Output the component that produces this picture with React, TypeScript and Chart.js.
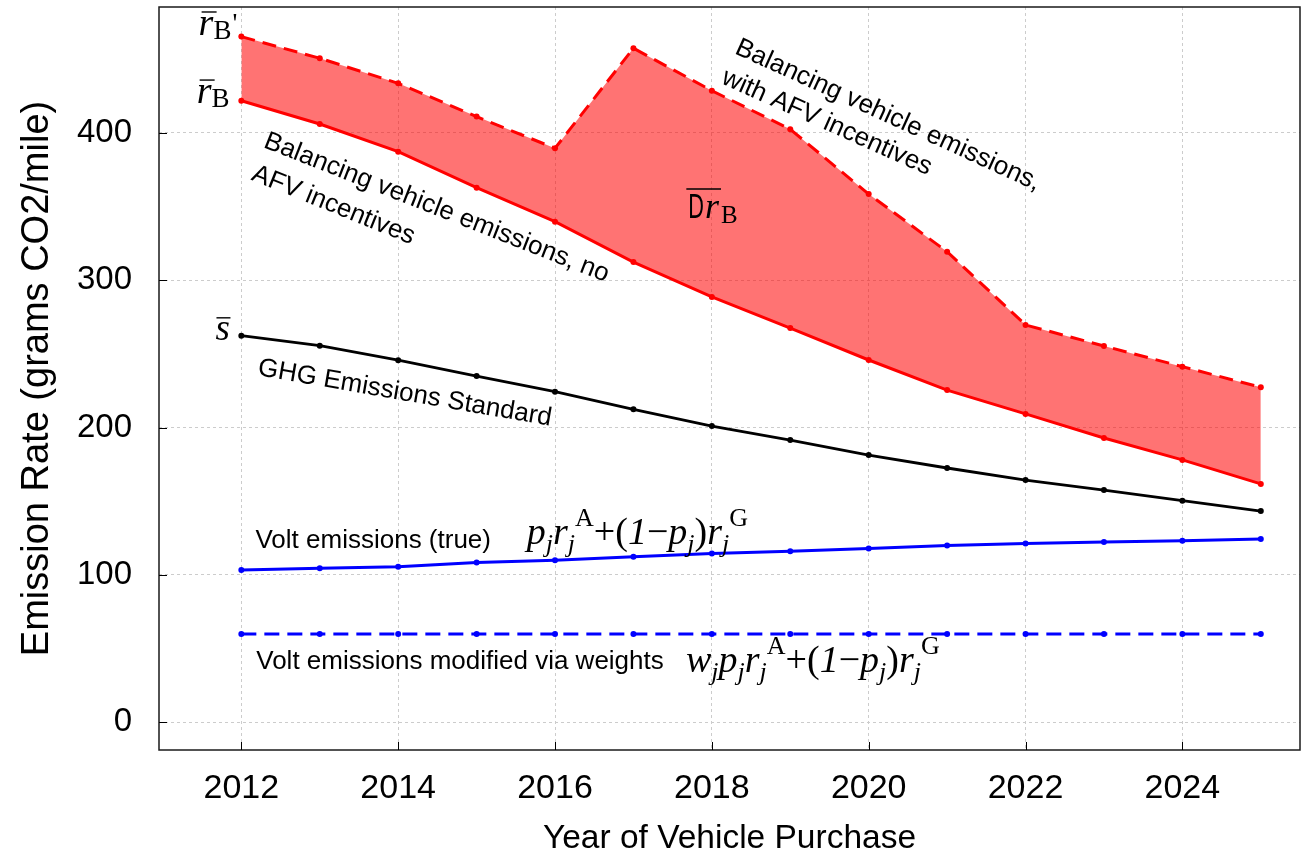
import React, { useEffect, useRef } from "react";
import { Chart, registerables } from "chart.js";

Chart.register(...registerables);

// ---- data ----
const years = [2012, 2013, 2014, 2015, 2016, 2017, 2018, 2019, 2020, 2021, 2022, 2023, 2024, 2025];
const rBPrime = [465.4, 450.7, 433.7, 411.1, 389.6, 457.5, 428.7, 402.5, 358.5, 319.4, 269.7, 255.4, 241.4, 227.4];
const rB = [421.9, 406.1, 387.3, 362.9, 339.8, 312.4, 288.7, 267.6, 245.9, 225.5, 209.3, 193.0, 178.1, 161.8];
const ghgStandard = [262.4, 255.6, 245.8, 235.0, 224.4, 212.4, 201.1, 191.6, 181.4, 172.6, 164.4, 157.6, 150.4, 143.4];
const voltTrue = [103.4, 104.5, 105.6, 108.4, 110.0, 112.3, 114.5, 116.1, 117.9, 120.0, 121.3, 122.4, 123.3, 124.4];
const voltWeighted = [60, 60, 60, 60, 60, 60, 60, 60, 60, 60, 60, 60, 60, 60];
const xTickValues = [2012, 2014, 2016, 2018, 2020, 2022, 2024];
const yTickValues = [0, 100, 200, 300, 400];

const SANS = '"Liberation Sans", Arial, Helvetica, sans-serif';
const SERIF = '"Liberation Serif", "Times New Roman", "DejaVu Serif", serif';

type Seg = { t: string; f: string; dy?: number; dx?: number };

function drawRich(ctx: CanvasRenderingContext2D, x: number, y: number, segs: Seg[]) {
  let cx = x;
  ctx.textAlign = "left";
  ctx.textBaseline = "alphabetic";
  for (const s of segs) {
    ctx.font = s.f;
    cx += s.dx || 0;
    ctx.fillText(s.t, cx, y + (s.dy || 0));
    cx += ctx.measureText(s.t).width;
  }
  return cx;
}

const S = 38;
const s = 26;
const I = `italic ${S}px ${SERIF}`;
const Ii = `italic ${s}px ${SERIF}`;
const R = `${S}px ${SERIF}`;
const Rr = `${s}px ${SERIF}`;
const SUB = 8;
const SUP = -18;

const formulaCore: Seg[] = [
  { t: "p", f: I },
  { t: "j", f: Ii, dy: SUB },
  { t: "r", f: I },
  { t: "j", f: Ii, dy: SUB },
  { t: "A", f: Rr, dy: SUP },
  { t: "+(", f: R },
  { t: "1", f: I },
  { t: "\u2212", f: R },
  { t: "p", f: I },
  { t: "j", f: Ii, dy: SUB },
  { t: ")", f: R },
  { t: "r", f: I },
  { t: "j", f: Ii, dy: SUB },
  { t: "G", f: Rr, dy: SUP },
];
const formulaWeighted: Seg[] = [{ t: "w", f: I }, { t: "j", f: Ii, dy: SUB }, ...formulaCore];

// rotated text annotations (data coordinates)
const rotatedLabels = [
  { text: "Balancing vehicle emissions, no", x: 2012.27, y: 390.5, angle: 21.5 },
  { text: "AFV incentives", x: 2012.115, y: 368.5, angle: 22 },
  { text: "Balancing vehicle emissions,", x: 2018.28, y: 454.3, angle: 24.5 },
  { text: "with AFV incentives", x: 2018.108, y: 433.9, angle: 24 },
  { text: "GHG Emissions Standard", x: 2012.2, y: 235.7, angle: 9.8 },
  { text: "Volt emissions (true)", x: 2012.18, y: 118.3, angle: 0 },
  { text: "Volt emissions modified via weights", x: 2012.19, y: 36.2, angle: 0 },
];

const annotPlugin = {
  id: "annot",
  afterDatasetsDraw(chart: any) {
    const ctx: CanvasRenderingContext2D = chart.ctx;
    const xs = chart.scales.x;
    const ys = chart.scales.y;
    const { left, right, top, bottom } = chart.chartArea;
    const px = (v: number) => xs.getPixelForValue(v);
    const py = (v: number) => ys.getPixelForValue(v);
    ctx.save();
    // frame
    ctx.strokeStyle = "#1a1a1a";
    ctx.lineWidth = 1.5;
    ctx.strokeRect(left, top, right - left, bottom - top);
    // inward tick marks
    ctx.lineWidth = 1;
    ctx.strokeStyle = "#000";
    ctx.beginPath();
    for (const v of yTickValues) {
      const y = Math.round(py(v)) + 0.5;
      ctx.moveTo(left, y);
      ctx.lineTo(left + 8, y);
    }
    for (const v of xTickValues) {
      const x = Math.round(px(v)) + 0.5;
      ctx.moveTo(x, bottom);
      ctx.lineTo(x, bottom - 8);
    }
    ctx.stroke();

    ctx.fillStyle = "#000";
    // rotated labels
    for (const l of rotatedLabels) {
      ctx.save();
      ctx.translate(px(l.x), py(l.y));
      ctx.rotate((l.angle * Math.PI) / 180);
      ctx.font = `26px ${SANS}`;
      ctx.textAlign = "left";
      ctx.textBaseline = "alphabetic";
      ctx.fillText(l.text, 0, 0);
      ctx.restore();
    }
    // formulas
    drawRich(ctx, px(2015.64), py(121.0), formulaCore);
    drawRich(ctx, px(2017.67), py(34.1), formulaWeighted);

    const barLine = (x1: number, x2: number, y: number) => {
      ctx.save();
      ctx.strokeStyle = "#000";
      ctx.lineWidth = 1.4;
      ctx.beginPath();
      ctx.moveTo(x1, y);
      ctx.lineTo(x2, y);
      ctx.stroke();
      ctx.restore();
    };
    {
      const x0 = px(2011.455), y0 = py(466.5);
      drawRich(ctx, x0, y0, [
        { t: "r", f: `italic 38px ${SERIF}` },
        { t: "B", f: `27px ${SERIF}`, dy: 4 },
        { t: "'", f: `27px ${SERIF}`, dy: -3, dx: 1 },
      ]);
      barLine(x0 + 3, x0 + 18, y0 - 23);
    }
    {
      const x0 = px(2011.43), y0 = py(420.3);
      drawRich(ctx, x0, y0, [
        { t: "r", f: `italic 38px ${SERIF}` },
        { t: "B", f: `27px ${SERIF}`, dy: 4 },
      ]);
      barLine(x0 + 3, x0 + 18, y0 - 23);
    }
    {
      const x0 = px(2011.67), y0 = py(259.6);
      drawRich(ctx, x0, y0, [{ t: "s", f: `italic 37px ${SERIF}` }]);
      barLine(x0 + 1, x0 + 15, y0 - 22);
    }
    {
      // overlined "D r" with subscript B
      const x0 = px(2017.7), y0 = py(342.3);
      ctx.save();
      ctx.translate(x0, y0);
      ctx.scale(0.62, 1);
      ctx.font = `35px ${SANS}`;
      ctx.textAlign = "left";
      ctx.textBaseline = "alphabetic";
      ctx.fillText("D", 0, 0);
      const dW = ctx.measureText("D").width * 0.62;
      ctx.restore();
      const e1 = drawRich(ctx, x0 + dW + 1, y0, [{ t: "r", f: `italic 36px ${SERIF}` }]);
      drawRich(ctx, e1 + 2, y0 + 5, [{ t: "B", f: `25px ${SERIF}` }]);
      barLine(x0 - 2, e1 + 2, y0 - 29);
    }
    ctx.restore();
  },
};

export default function App() {
  const ref = useRef<HTMLCanvasElement>(null);
  useEffect(() => {
    const canvas = ref.current!;
    const pts = (arr: number[]) => years.map((x, i) => ({ x, y: arr[i] }));
    const mk = (arr: number[], color: string, width: number, dash?: number[], fill: any = false, bg?: string) => ({
      data: pts(arr),
      borderColor: color,
      backgroundColor: bg || color,
      borderWidth: width,
      borderDash: dash || [],
      pointRadius: 3,
      pointBorderWidth: 0,
      pointBackgroundColor: color,
      fill,
      tension: 0,
    });
    const chart = new Chart(canvas, {
      type: "line",
      data: {
        datasets: [
          mk(rBPrime, "#ff0000", 3, [14, 8]),
          mk(rB, "#ff0000", 3, undefined, "-1", "rgba(255,0,0,0.55)"),
          mk(ghgStandard, "#000000", 2.8),
          mk(voltTrue, "#0000ff", 3),
          mk(voltWeighted, "#0000ff", 3, [15, 8]),
        ],
      },
      options: {
        animation: false,
        responsive: true,
        maintainAspectRatio: false,
        layout: { padding: { left: 0, right: 9, top: 7, bottom: 0 } },
        plugins: {
          legend: { display: false },
          tooltip: { enabled: false },
        },
        scales: {
          x: {
            type: "linear",
            min: 2010.95,
            max: 2025.5,
            afterBuildTicks: (sc: any) => {
              sc.ticks = xTickValues.map((v) => ({ value: v }));
            },
            afterFit: (sc: any) => {
              sc.height = 109;
              sc.paddingLeft = 0;
              sc.paddingRight = 0;
              sc.paddingTop = 0;
              sc.paddingBottom = 0;
            },
            ticks: {
              color: "#000",
              font: { family: SANS, size: 34 },
              padding: 18,
              maxRotation: 0,
              autoSkip: false,
              callback: (v: any) => String(v),
            },
            grid: { color: "#cccccc", lineWidth: 1, drawTicks: false },
            border: { display: false, dash: [3, 3] },
            title: {
              display: true,
              text: "Year of Vehicle Purchase",
              color: "#000",
              font: { family: SANS, size: 33.5 },
              padding: { top: 0, bottom: 0 },
            },
          },
          y: {
            type: "linear",
            min: -18.8,
            max: 485.5,
            afterBuildTicks: (sc: any) => {
              sc.ticks = yTickValues.map((v) => ({ value: v }));
            },
            afterFit: (sc: any) => {
              sc.width = 159;
              sc.paddingLeft = 0;
              sc.paddingRight = 0;
              sc.paddingTop = 0;
              sc.paddingBottom = 0;
            },
            ticks: {
              color: "#000",
              font: { family: SANS, size: 33 },
              padding: 27,
              autoSkip: false,
              callback: (v: any) => String(v),
            },
            grid: { color: "#cccccc", lineWidth: 1, drawTicks: false },
            border: { display: false, dash: [3, 3] },
            title: {
              display: true,
              text: "Emission Rate (grams CO2/mile)",
              color: "#000",
              font: { family: SANS, size: 38 },
              padding: { top: 15, bottom: 0 },
            },
          },
        },
      },
      plugins: [annotPlugin],
    } as any);
    return () => chart.destroy();
  }, []);
  return (
    <div style={{ position: "fixed", left: 0, top: 0, width: 1309, height: 859, background: "#fff" }}>
      <canvas ref={ref} />
    </div>
  );
}
